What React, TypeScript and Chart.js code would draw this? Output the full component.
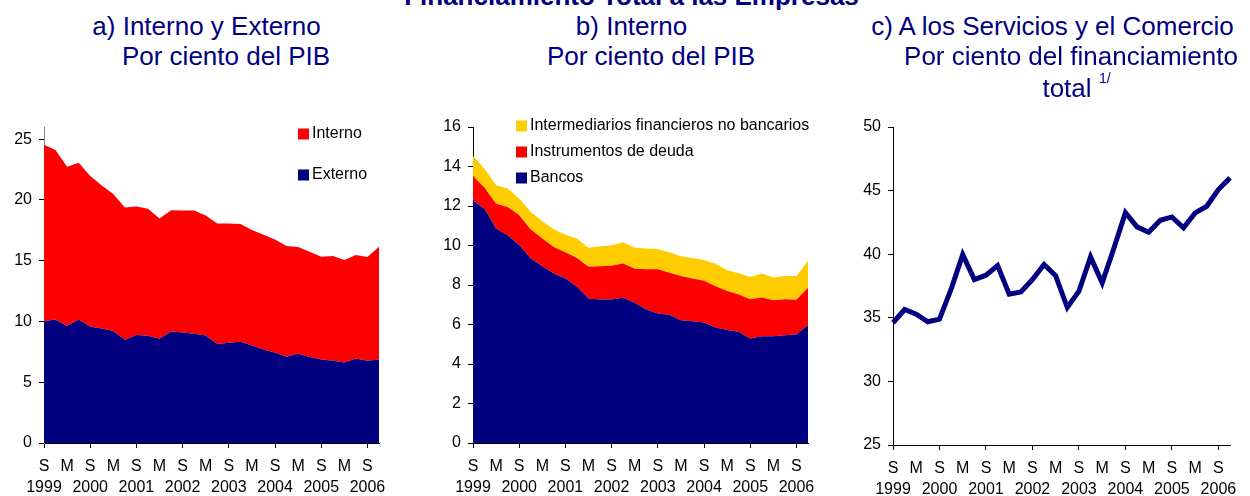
import React, { useEffect, useRef } from 'react';
import { Chart, registerables } from 'chart.js';

Chart.register(...registerables);

const FONT = 'Arial, "Liberation Sans", sans-serif';
const NAVY = '#000080';
const RED = '#FF0000';
const YELLOW = '#FFCC00';

// Quarterly periods, Sep 1999 .. Dec 2006
const periods = [
  'S 1999', 'D 1999',
  'M 2000', 'J 2000', 'S 2000', 'D 2000',
  'M 2001', 'J 2001', 'S 2001', 'D 2001',
  'M 2002', 'J 2002', 'S 2002', 'D 2002',
  'M 2003', 'J 2003', 'S 2003', 'D 2003',
  'M 2004', 'J 2004', 'S 2004', 'D 2004',
  'M 2005', 'J 2005', 'S 2005', 'D 2005',
  'M 2006', 'J 2006', 'S 2006', 'D 2006',
];

// a) Interno y Externo, % del PIB
const externo = [
  10.01, 10.17, 9.62, 10.17, 9.57, 9.43, 9.21, 8.5, 8.88, 8.83,
  8.58, 9.18, 9.1, 8.99, 8.85, 8.14, 8.25, 8.33, 8.03, 7.7,
  7.43, 7.1, 7.35, 7.07, 6.88, 6.77, 6.63, 6.96, 6.77, 6.88,
];
const interno = [
  14.52, 13.93, 13.11, 12.88, 12.39, 11.76, 11.27, 10.88, 10.58, 10.44,
  9.9, 9.98, 10.03, 10.14, 9.87, 9.92, 9.81, 9.68, 9.49, 9.43,
  9.32, 9.1, 8.77, 8.66, 8.44, 8.61, 8.42, 8.5, 8.53, 9.27,
];

// b) Interno, % del PIB
const bancos = [
  12.29, 11.85, 10.86, 10.52, 10.02, 9.34, 8.95, 8.58, 8.33, 7.91,
  7.32, 7.27, 7.27, 7.35, 7.1, 6.76, 6.56, 6.49, 6.22, 6.17,
  6.1, 5.85, 5.72, 5.63, 5.29, 5.4, 5.4, 5.46, 5.5, 5.97,
];
const deuda = [
  1.23, 1.08, 1.26, 1.43, 1.51, 1.47, 1.4, 1.35, 1.33, 1.46,
  1.6, 1.68, 1.7, 1.74, 1.72, 2.04, 2.24, 2.13, 2.23, 2.16,
  2.11, 2.09, 1.97, 1.89, 1.99, 1.97, 1.83, 1.82, 1.75, 1.89,
];
const noBancarios = [
  1.01, 0.96, 0.93, 0.93, 0.85, 0.89, 0.88, 0.89, 0.89, 0.98,
  0.96, 1.01, 1.03, 1.08, 1.06, 1.05, 1.01, 1.04, 1.01, 1.04,
  1.06, 1.13, 1.06, 1.08, 1.13, 1.21, 1.15, 1.17, 1.2, 1.36,
];

// c) Servicios y Comercio, % del financiamiento total
const serviciosComercio = [
  34.61, 35.65, 35.29, 34.69, 34.9, 37.25, 39.97, 38.01, 38.35, 39.11,
  36.86, 37.04, 38.01, 39.19, 38.3, 35.81, 37.09, 39.79, 37.75, 40.45,
  43.27, 42.15, 41.73, 42.67, 42.93, 42.07, 43.25, 43.77, 45.08, 46.0,
];

Chart.defaults.font.family = FONT;
Chart.defaults.font.size = 16;
Chart.defaults.color = '#000';

const tickLabel = (i: number) => {
  if (i % 2 !== 0) return null;
  const [m, y] = periods[i].split(' ');
  return [m, m === 'S' ? y : ''];
};

const boxLegend = {
  id: 'boxLegend',
  afterDraw(chart: any, _args: any, opts: any) {
    if (!opts || !opts.items) return;
    const ctx = chart.ctx;
    ctx.save();
    ctx.font = `${opts.fontSize}px ${FONT}`;
    ctx.textBaseline = 'middle';
    ctx.textAlign = 'left';
    opts.items.forEach((idx: number, k: number) => {
      const ds = chart.data.datasets[idx];
      const y = opts.y + k * opts.gap;
      ctx.fillStyle = ds.backgroundColor;
      ctx.fillRect(opts.x, y - opts.box / 2, opts.box, opts.box);
      ctx.fillStyle = '#000';
      ctx.fillText(ds.label, opts.x + opts.box + opts.textGap, y);
    });
    ctx.restore();
  },
};

function xScale(height: number, borderColor: string) {
  return {
    type: 'category',
    offset: false,
    border: { display: true, color: borderColor, width: 1 },
    grid: {
      drawOnChartArea: false,
      drawTicks: true,
      tickLength: 5,
      tickColor: (c: any) => (c.index % 2 === 0 ? '#000' : 'rgba(0,0,0,0)'),
    },
    ticks: {
      autoSkip: false,
      maxRotation: 0,
      minRotation: 0,
      padding: 8,
      color: '#000',
      font: { size: 16, lineHeight: 1.3 },
      callback: (_v: any, i: number) => tickLabel(i),
    },
    afterFit: (s: any) => {
      s.height = height;
    },
  };
}

function yScale(min: number, max: number, step: number, width: number, borderColor: string, stacked: boolean) {
  return {
    type: 'linear',
    min,
    max,
    stacked,
    border: { display: true, color: borderColor, width: 1 },
    grid: { drawOnChartArea: false, drawTicks: true, tickLength: 5, tickColor: '#000' },
    ticks: { stepSize: step, includeBounds: false, padding: 7, color: '#000', font: { size: 16 } },
    afterFit: (s: any) => {
      s.width = width;
    },
  };
}

const CW = 400;
const CH = 396;

export default function App() {
  const refA = useRef<HTMLCanvasElement>(null);
  const refB = useRef<HTMLCanvasElement>(null);
  const refC = useRef<HTMLCanvasElement>(null);

  useEffect(() => {
    const charts: Chart[] = [];
    const common = { responsive: false, animation: false as const, events: [] as any[] };

    charts.push(
      new Chart(refA.current!, {
        type: 'line',
        data: {
          labels: periods,
          datasets: [
            { label: 'Externo', data: externo, backgroundColor: NAVY, borderWidth: 0, pointRadius: 0, fill: 'origin' },
            { label: 'Interno', data: interno, backgroundColor: RED, borderWidth: 0, pointRadius: 0, fill: '-1' },
          ],
        },
        options: {
          ...common,
          layout: { padding: { left: 0, right: 21, top: 27, bottom: 0 } },
          scales: {
            x: xScale(53, '#000') as any,
            y: yScale(0, 26, 5, 44, '#808080', true) as any,
          },
          plugins: {
            legend: { display: false },
            tooltip: { enabled: false },
            boxLegend: { items: [1, 0], x: 298, y: 34, gap: 41, box: 11, textGap: 3, fontSize: 16 },
          } as any,
        },
        plugins: [boxLegend],
      })
    );

    charts.push(
      new Chart(refB.current!, {
        type: 'line',
        data: {
          labels: periods,
          datasets: [
            { label: 'Bancos', data: bancos, backgroundColor: NAVY, borderWidth: 0, pointRadius: 0, fill: 'origin' },
            { label: 'Instrumentos de deuda', data: deuda, backgroundColor: RED, borderWidth: 0, pointRadius: 0, fill: '-1' },
            { label: 'Intermediarios financieros no bancarios', data: noBancarios, backgroundColor: YELLOW, borderWidth: 0, pointRadius: 0, fill: '-1' },
          ],
        },
        options: {
          ...common,
          layout: { padding: { left: 0, right: 22, top: 27, bottom: 0 } },
          scales: {
            x: xScale(53, '#000') as any,
            y: yScale(0, 16, 2, 53, '#000', true) as any,
          },
          plugins: {
            legend: { display: false },
            tooltip: { enabled: false },
            boxLegend: { items: [2, 1, 0], x: 96, y: 26, gap: 26, box: 11, textGap: 3, fontSize: 16 },
          } as any,
        },
        plugins: [boxLegend],
      })
    );

    charts.push(
      new Chart(refC.current!, {
        type: 'line',
        data: {
          labels: periods,
          datasets: [
            {
              label: 'Servicios y Comercio',
              data: serviciosComercio,
              borderColor: NAVY,
              backgroundColor: NAVY,
              borderWidth: 5,
              pointRadius: 0,
              fill: false,
              tension: 0,
            },
          ],
        },
        options: {
          ...common,
          layout: { padding: { left: 0, right: 20, top: 27, bottom: 0 } },
          scales: {
            x: xScale(51, '#000') as any,
            y: yScale(25, 50, 5, 53, '#000', false) as any,
          },
          plugins: { legend: { display: false }, tooltip: { enabled: false } },
        },
      })
    );

    return () => charts.forEach((c) => c.destroy());
  }, []);

  const t = (cx: number, top: number, size: number, bold = false): React.CSSProperties => ({
    position: 'absolute',
    left: cx - 300,
    width: 600,
    top,
    textAlign: 'center',
    fontSize: size,
    lineHeight: '30px',
    fontWeight: bold ? 'bold' : 'normal',
    color: NAVY,
    whiteSpace: 'nowrap',
    fontFamily: FONT,
  });

  const canvasBox = (left: number, width: number): React.CSSProperties => ({
    position: 'absolute',
    left,
    top: 100,
    width,
    height: CH,
  });

  return (
    <div
      style={{
        position: 'absolute',
        left: 0,
        top: 0,
        width: 1250,
        height: 496,
        overflow: 'hidden',
        background: '#fff',
        fontFamily: FONT,
      }}
    >
      <div style={canvasBox(0, CW)}>
        <canvas ref={refA} width={CW} height={CH} style={{ width: CW, height: CH, display: 'block' }} />
      </div>
      <div style={canvasBox(420, 410)}>
        <canvas ref={refB} width={410} height={CH} style={{ width: 410, height: CH, display: 'block' }} />
      </div>
      <div style={canvasBox(840, 410)}>
        <canvas ref={refC} width={410} height={CH} style={{ width: 410, height: CH, display: 'block' }} />
      </div>

      <div style={t(631.5, -19, 26, true)}>Financiamiento Total a las Empresas</div>

      <div style={t(206.5, 11, 26)}>a) Interno y Externo</div>
      <div style={t(226, 41, 26)}>Por ciento del PIB</div>

      <div style={t(631.5, 11, 26)}>b) Interno</div>
      <div style={t(651, 41, 26)}>Por ciento del PIB</div>

      <div style={t(1052.5, 11, 26)}>c) A los Servicios y el Comercio</div>
      <div style={t(1071, 41, 26)}>Por ciento del financiamiento</div>
      <div style={t(1067, 73, 26)}>total</div>
      <div
        style={{
          position: 'absolute',
          left: 1099,
          top: 70,
          fontSize: 14,
          lineHeight: '16px',
          color: NAVY,
          fontFamily: FONT,
          whiteSpace: 'nowrap',
        }}
      >
        1/
      </div>
    </div>
  );
}
